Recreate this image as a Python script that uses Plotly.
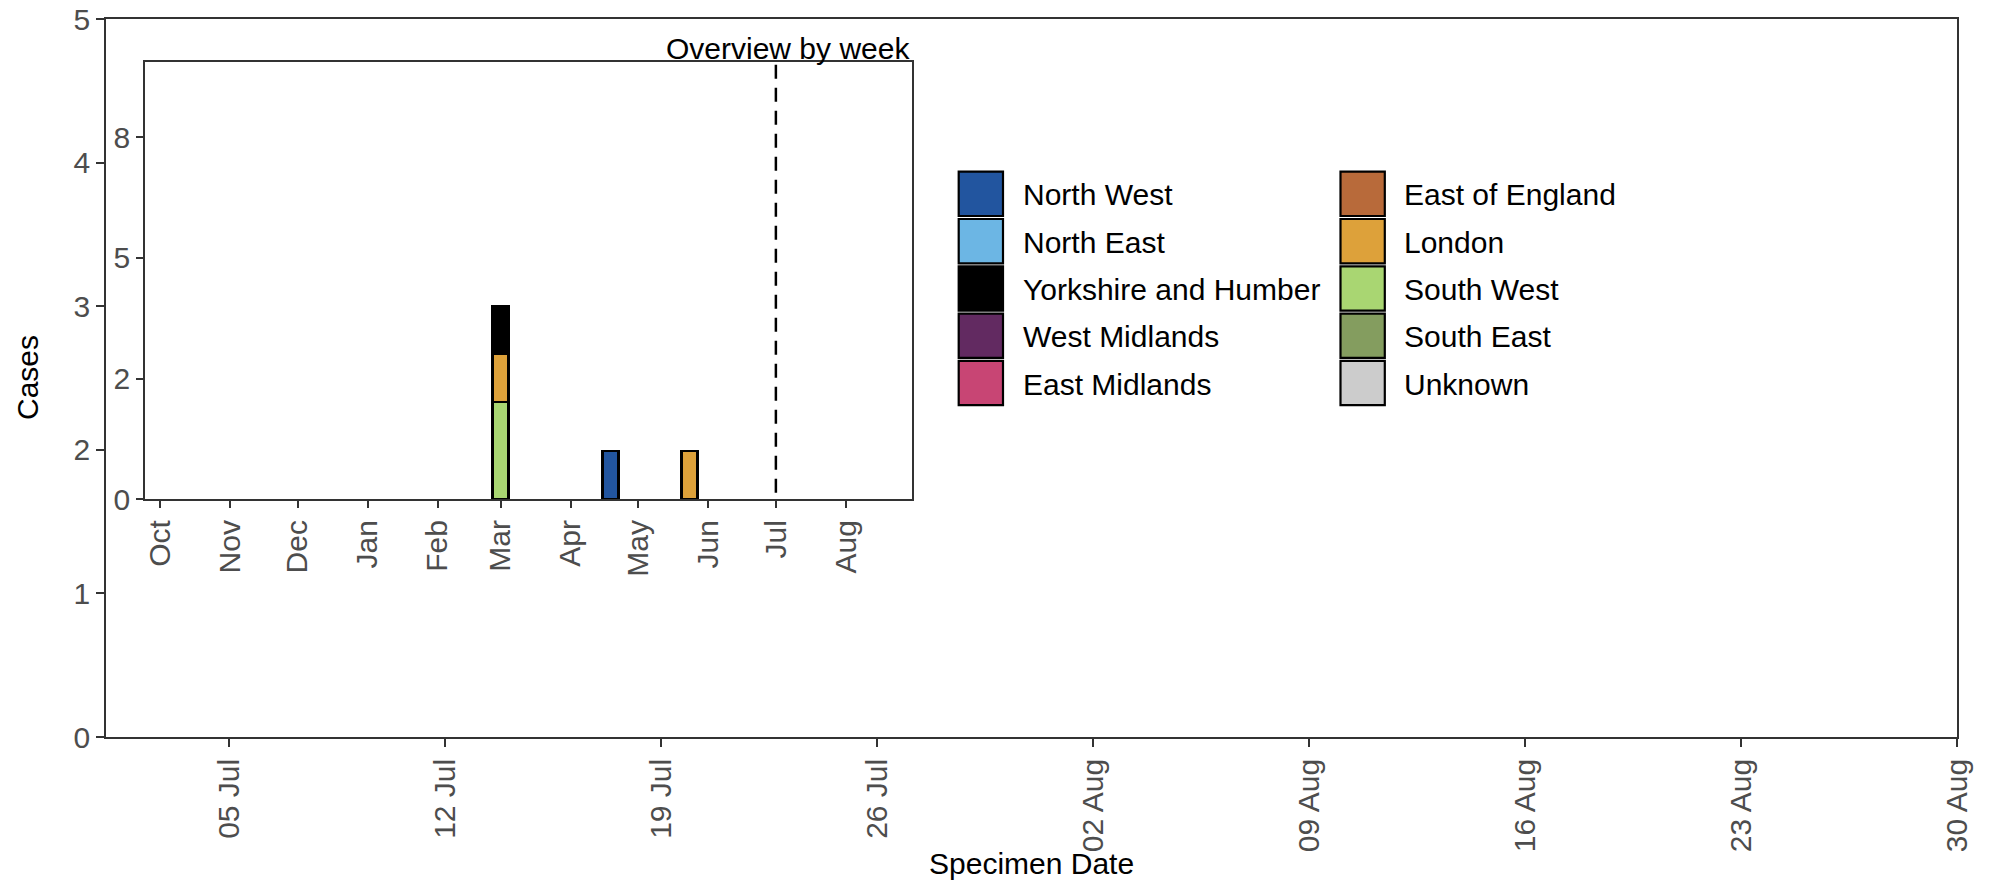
import plotly.graph_objects as go

# ---------------- data ----------------
regions = ["North West", "North East", "Yorkshire and Humber", "West Midlands",
           "East Midlands", "East of England", "London", "South West",
           "South East", "Unknown"]
colors = ["#22559F", "#6CB6E4", "#000000", "#622A61", "#C84574",
          "#B86A3A", "#DDA13A", "#A9D672", "#849D5F", "#CCCCCC"]
weeks = ["2022-03-01", "2022-04-19", "2022-05-24"]
weekly_cases = {
    "North West":           [0, 1, 0],
    "North East":           [0, 0, 0],
    "Yorkshire and Humber": [1, 0, 0],
    "West Midlands":        [0, 0, 0],
    "East Midlands":        [0, 0, 0],
    "East of England":      [0, 0, 0],
    "London":               [1, 0, 1],
    "South West":           [2, 0, 0],
    "South East":           [0, 0, 0],
    "Unknown":              [0, 0, 0],
}
# daily cases in the main window (none recorded)
daily_dates = []
daily_cases = []

main_xticks = ["2022-07-05", "2022-07-12", "2022-07-19", "2022-07-26", "2022-08-02",
               "2022-08-09", "2022-08-16", "2022-08-23", "2022-08-30"]
main_yticks = [0, 1, 2, 3, 4, 5]
inset_xticks = ["2021-10-01", "2021-11-01", "2021-12-01", "2022-01-01", "2022-02-01",
                "2022-03-01", "2022-04-01", "2022-05-01", "2022-06-01", "2022-07-01",
                "2022-08-01"]
inset_yticks = [0, 2.5, 5, 7.5]
inset_yticktext = ["0", "2", "5", "8"]
cutoff_date = "2022-07-01"

# ---------------- geometry helpers ----------------
W, H = 1991, 884
L, R, T, B = 106, 1957, 19, 737


def px_x(x):
    return (x - L) / (R - L)


def px_y(y):
    return (B - y) / (B - T)


FONT = "Liberation Sans, Arial, sans-serif"
TICKC = "#4D4D4D"
AXC = "#333333"

fig = go.Figure()

# main (daily) panel - empty in this window
fig.add_trace(go.Bar(x=daily_dates, y=daily_cases, xaxis="x", yaxis="y",
                     showlegend=False))

# inset weekly stacked bars: ggplot puts the first level on top, so add in reverse
week_ms = 7 * 86400000
for reg, col in reversed(list(zip(regions, colors))):
    xs = [w for w, v in zip(weeks, weekly_cases[reg]) if v > 0]
    ys = [v for v in weekly_cases[reg] if v > 0]
    fig.add_trace(go.Bar(
        x=xs, y=ys, name=reg, xaxis="x2", yaxis="y2",
        width=[week_ms] * len(xs),
        marker=dict(color=col, line=dict(color="black", width=2.8)),
        showlegend=False,
    ))

tickfont = dict(family=FONT, size=30, color=TICKC)
common = dict(showline=True, linecolor=AXC, linewidth=1.6, mirror=True,
              ticks="outside", tickwidth=1.6, tickcolor=AXC,
              showgrid=False, zeroline=False, tickfont=tickfont, automargin=False)

fig.update_layout(
    width=W, height=H,
    margin=dict(l=L, r=W - R, t=T, b=H - B, autoexpand=False),
    paper_bgcolor="white", plot_bgcolor="white",
    barmode="stack", bargap=0,
    font=dict(family=FONT, size=30, color="black"),
    xaxis=dict(
        type="date", range=["2022-07-01", "2022-08-30"],
        tickvals=main_xticks, tickformat="%d %b", tickangle=-90, ticklen=8,
        domain=[0, 1], anchor="y", **common,
    ),
    yaxis=dict(
        range=[0, 5], tickvals=main_yticks, ticklen=8,
        domain=[0, 1], anchor="x", **common,
    ),
    xaxis2=dict(
        type="date", range=["2021-09-24 08:00", "2022-08-30 05:00"],
        tickvals=inset_xticks, tickformat="%b", tickangle=-90, ticklen=7,
        domain=[px_x(145), px_x(911.7)], anchor="y2", **common,
    ),
    yaxis2=dict(
        range=[0, 9.05], tickvals=inset_yticks, ticktext=inset_yticktext, ticklen=7,
        domain=[px_y(499.3), px_y(62.3)], anchor="x2", **common,
    ),
)

shapes = [
    dict(type="line", xref="x2", yref="y2 domain", x0=cutoff_date, x1=cutoff_date,
         y0=0.015, y1=1, line=dict(color="black", width=2.5, dash="14px,9px"), layer="above"),
]
annotations = [
    dict(text="Overview by week", xref="paper", yref="paper", x=px_x(911.7), y=px_y(48.5),
         xanchor="right", yanchor="middle", showarrow=False,
         font=dict(family=FONT, size=30, color="black")),
    dict(text="Specimen Date", xref="paper", yref="paper", x=px_x(1031), y=px_y(863),
         xanchor="center", yanchor="middle", showarrow=False,
         font=dict(family=FONT, size=30, color="black")),
    dict(text="Cases", xref="paper", yref="paper", x=px_x(27), y=px_y(378),
         xanchor="center", yanchor="middle", textangle=-90, showarrow=False,
         font=dict(family=FONT, size=30, color="black")),
]

# legend: two columns of five keys
key_x = [958.7, 1340.5]
text_x = [1021, 1402]
key_top0, pitch, key_size = 171.7, 47.3, 44.3
for i, (reg, col) in enumerate(zip(regions, colors)):
    c, r = divmod(i, 5)
    top = key_top0 + r * pitch
    shapes.append(dict(type="rect", xref="paper", yref="paper",
                       x0=px_x(key_x[c]), x1=px_x(key_x[c] + key_size),
                       y0=px_y(top + key_size), y1=px_y(top),
                       fillcolor=col, line=dict(color="black", width=2.2)))
    annotations.append(dict(text=reg, xref="paper", yref="paper",
                            x=px_x(text_x[c]), y=px_y(top + key_size / 2 + 1),
                            xanchor="left", yanchor="middle", showarrow=False,
                            font=dict(family=FONT, size=30, color="black")))

fig.update_layout(shapes=shapes, annotations=annotations)
fig.write_html(
    "out.html",
    config={"displayModeBar": False},
    post_script="document.body.style.margin='0';document.body.style.padding='0';"
                "document.documentElement.style.overflow='hidden';",
)
